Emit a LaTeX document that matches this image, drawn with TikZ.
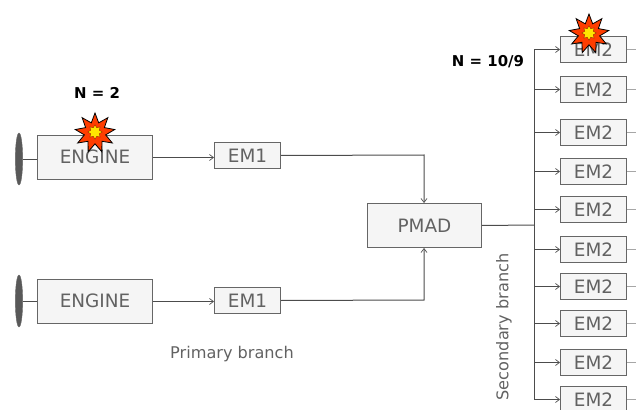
\documentclass[tikz,border=0pt]{standalone}
\usepackage{fontspec}
\setmainfont{DejaVu Sans}
\usetikzlibrary{arrows.meta,shapes.geometric}
\definecolor{boxfill}{HTML}{F5F5F5}
\definecolor{boxline}{HTML}{666666}
\definecolor{txt}{HTML}{626262}
\definecolor{burst}{HTML}{FF3D00}
\definecolor{burstin}{HTML}{FFE600}
\tikzset{
  x=0.75pt,y=-0.75pt,
  blockbox/.style={draw=boxline,fill=boxfill,line width=0.75pt,text=txt,font=\fontsize{13.8pt}{15pt}\selectfont,inner sep=0pt,anchor=north west},
  conn/.style={draw=black!70,line width=0.75pt},
  arr/.style={conn,-{Straight Barb[length=3pt,width=4.5pt,line width=0.5pt]}},
  stub/.style={draw=black!35,line width=0.75pt},
  prop/.style={draw=black!60,fill=black!65,line width=0.3pt,ellipse,minimum width=5.5pt,minimum height=39pt,inner sep=0pt},
  burstout/.style={star,star points=9,star point ratio=1.85,draw=black,fill=burst,line width=0.6pt,minimum size=30pt,inner sep=0pt},
  burstmid/.style={star,star points=8,star point ratio=1.6,draw=black!40!burst,fill=burstin,line width=0.3pt,minimum size=11pt,inner sep=0pt},
  note/.style={font=\fontsize{11.2pt}{13pt}\selectfont\bfseries,text=black},
  caplabel/.style={font=\fontsize{12.1pt}{14pt}\selectfont,text=txt}
}
\newcommand{\emtwo}[2]{%
  \node[blockbox,minimum width=49.5pt,minimum height=19.5pt] (#1) at (560,#2) {\raisebox{-0.8pt}{EM2}};
}
\begin{document}
\begin{tikzpicture}
\useasboundingbox (0,0) rectangle (636,410);
\clip (0,0) rectangle (636,410);
% propellers and engines
\node[prop] (p1) at (19,159) {};
\node[prop] (p2) at (19,301) {};
\node[blockbox,minimum width=86.25pt,minimum height=33pt] (e1) at (37,135) {\raisebox{0.6pt}{ENGINE}};
\node[blockbox,minimum width=86.25pt,minimum height=33pt] (e2) at (37,279) {\raisebox{0.8pt}{ENGINE}};
\node[blockbox,minimum width=49.5pt,minimum height=19.5pt] (m1) at (214,142) {EM1};
\node[blockbox,minimum width=49.5pt,minimum height=19.5pt] (m2) at (214,287) {EM1};
\node[blockbox,minimum width=85.5pt,minimum height=33pt] (pmad) at (367,203) {PMAD};
\draw[conn] (p1.east) -- (p1.east -| e1.west);
\draw[conn] (p2.east) -- (p2.east -| e2.west);
\draw[arr] (e1.east) -- (e1.east -| m1.west);
\draw[arr] (e2.east) -- (e2.east -| m2.west);
\coordinate (j1) at (424,155);
\coordinate (j2) at (424,300);
\draw[arr] (m1.east) -- (j1) -- (j1 |- pmad.north);
\draw[arr] (m2.east) -- (j2) -- (j2 |- pmad.south);
% secondary boxes
\emtwo{a}{36}
\emtwo{b}{76}
\emtwo{c}{119}
\emtwo{d}{158}
\emtwo{f}{196}
\emtwo{g}{236}
\emtwo{h}{273}
\emtwo{i}{310}
\emtwo{j}{349}
\emtwo{k}{386}
\coordinate (trunk) at (534,225);
\draw[conn] (pmad.east) -- (trunk);
\draw[conn] (a.west -| trunk) -- (k.west -| trunk);
\foreach \n in {a,b,c,d,f,g,h,i,j,k}{
  \draw[arr] (\n.west -| trunk) -- (\n.west);
  \coordinate (end\n) at (636,0);
  \draw[stub] (\n.east) -- (\n.east -| end\n);
}
% bursts
\node[burstout] (s1) at (95,133) {};
\node[burstmid] (s1i) at (95,132) {};
\node[burstout] (s2) at (589,34) {};
\node[burstmid] (s2i) at (589,33) {};
% labels
\node[note] (n1) at (97,93) {N = 2};
\node[note] (n2) at (488,62) {N = 10/9};
\node[caplabel] (c1) at (232,354) {Primary branch};
\node[caplabel,rotate=90] (c2) at (504,327) {Secondary branch};
\end{tikzpicture}
\end{document}
